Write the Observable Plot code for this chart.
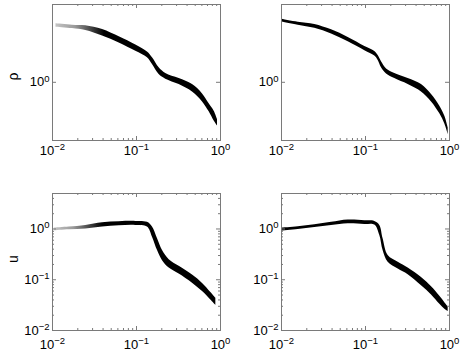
<!DOCTYPE html>
<html><head><meta charset="utf-8">
<script src="https://cdn.jsdelivr.net/npm/d3@7"></script>
<script src="https://cdn.jsdelivr.net/npm/@observablehq/plot@0.6"></script>
<style>
body{margin:0;background:#fff;}
#wrap{position:relative;width:463px;height:354px;overflow:hidden;font-family:"Liberation Sans",Arial,sans-serif;}
.p{position:absolute;}
</style></head><body><div id="wrap"></div>
<script>
// ---- data ----
const rhoLeftX  = [0.011, 0.0173, 0.0249, 0.0394, 0.0622, 0.0982, 0.135, 0.155, 0.186, 0.223, 0.322, 0.464, 0.611, 0.733, 0.841, 0.921];
const rhoLeftHi = [3.35, 3.26, 3.22, 2.98, 2.56, 2.16, 1.87, 1.66, 1.35, 1.20, 1.08, 0.955, 0.787, 0.64, 0.55, 0.463];
const rhoLeftLo = [3.13, 3.04, 2.92, 2.60, 2.26, 1.90, 1.66, 1.445, 1.175, 1.067, 0.955, 0.82, 0.667, 0.543, 0.448, 0.404];

const rhoRightX  = [0.01, 0.0158, 0.0249, 0.0394, 0.0622, 0.0982, 0.129, 0.1416, 0.155, 0.178, 0.223, 0.322, 0.464, 0.611, 0.767, 0.880, 0.964];
const rhoRightHi = [3.69, 3.47, 3.31, 2.96, 2.53, 2.10, 1.89, 1.74, 1.53, 1.32, 1.20, 1.08, 0.955, 0.777, 0.61, 0.496, 0.39];
const rhoRightLo = [3.49, 3.26, 3.06, 2.72, 2.31, 1.92, 1.72, 1.57, 1.35, 1.19, 1.08, 0.955, 0.82, 0.667, 0.521, 0.423, 0.34];

const uLeftX  = [0.0105, 0.0158, 0.0249, 0.0394, 0.0622, 0.0982, 0.135, 0.155, 0.178, 0.204, 0.245, 0.322, 0.464, 0.611, 0.767, 0.880];
const uLeftHi = [1.042, 1.09, 1.177, 1.33, 1.39, 1.41, 1.35, 1.09, 0.64, 0.376, 0.249, 0.1836, 0.1235, 0.0844, 0.056, 0.0432];
const uLeftLo = [0.922, 0.965, 0.995, 1.09, 1.16, 1.177, 1.09, 0.69, 0.376, 0.238, 0.170, 0.1293, 0.0857, 0.0586, 0.040, 0.0314];

const uRightX  = [0.01, 0.0158, 0.0249, 0.0394, 0.0622, 0.0982, 0.129, 0.148, 0.162, 0.186, 0.245, 0.322, 0.464, 0.611, 0.767, 0.880, 0.964];
const uRightHi = [1.042, 1.107, 1.213, 1.35, 1.50, 1.457, 1.41, 1.177, 0.64, 0.299, 0.220, 0.170, 0.111, 0.0725, 0.0473, 0.0354, 0.0291];
const uRightLo = [0.908, 0.98, 1.074, 1.177, 1.27, 1.23, 1.195, 0.745, 0.376, 0.220, 0.1625, 0.1255, 0.0759, 0.0503, 0.0328, 0.0261, 0.0235];

const xDomain = [0.01, 1];
const rhoDomain = [0.3, 5];
const uDomain = [0.01, 5];
const xTicks = [0.01, 0.1, 1];
const xTickLabels = ["10^-2", "10^-1", "10^0"];
const xMinor = [0.02,0.03,0.04,0.05,0.06,0.07,0.08,0.09,0.2,0.3,0.4,0.5,0.6,0.7,0.8,0.9];
const rhoTicks = [1];
const rhoTickLabels = ["10^0"];
const uTicks = [0.01, 0.1, 1];
const uTickLabels = ["10^-2", "10^-1", "10^0"];
const uMinor = [0.02,0.03,0.04,0.05,0.06,0.07,0.08,0.09,0.2,0.3,0.4,0.5,0.6,0.7,0.8,0.9,2,3,4];

// ---- drawing ----
const GRAY = "#7a7a7a";
const wrap = document.getElementById("wrap");

function panel(cfg) {
  const {left, top, width, height, m, xs, hi, lo, yDomain, yTicks, yLabels, yMinor, ylabel, labelDy, gradId, xPad} = cfg;
  const innerW = width - m.l - m.r, innerH = height - m.t - m.b;
  const data = xs.map((x, i) => ({x, hi: hi[i], lo: lo[i]}));
  const marks = [
    Plot.areaY(data, {x: "x", y1: "lo", y2: "hi", fill: gradId ? `url(#${gradId})` : "#000", curve: "catmull-rom"}),
    Plot.frame({stroke: GRAY}),
    Plot.tickX(xTicks, {x: d => d, insetBottom: innerH - 4, stroke: GRAY}),
    Plot.tickX(xTicks, {x: d => d, insetTop: innerH - 4, stroke: GRAY}),
    Plot.tickX(xMinor, {x: d => d, insetBottom: innerH - 2, stroke: GRAY}),
    Plot.tickX(xMinor, {x: d => d, insetTop: innerH - 2, stroke: GRAY}),
    Plot.tickY(yTicks, {y: d => d, insetRight: innerW - 4, stroke: GRAY}),
    Plot.tickY(yTicks, {y: d => d, insetLeft: innerW - 4, stroke: GRAY}),
    Plot.axisX({ticks: xTicks, tickFormat: d => xTickLabels[xTicks.indexOf(d)], tickSize: 0, tickPadding: xPad, fontSize: 13, label: null}),
    Plot.axisY({ticks: yTicks, tickFormat: d => yLabels[yTicks.indexOf(d)], tickSize: 0, tickPadding: 3, fontSize: 13, label: null})
  ];
  if (yMinor) {
    marks.push(Plot.tickY(yMinor, {y: d => d, insetRight: innerW - 2, stroke: GRAY}));
    marks.push(Plot.tickY(yMinor, {y: d => d, insetLeft: innerW - 2, stroke: GRAY}));
  }
  if (ylabel) {
    marks.push(Plot.text([ylabel], {text: d => d, frameAnchor: "left", rotate: -90, dx: -39, dy: labelDy, fontSize: 14}));
  }
  const svg = Plot.plot({
    width, height,
    marginTop: m.t, marginRight: m.r, marginBottom: m.b, marginLeft: m.l,
    style: {fontFamily: "'Liberation Sans', Arial, sans-serif", fontSize: "13px", background: "transparent", color: "#000", overflow: "visible"},
    x: {type: "log", domain: xDomain, axis: null, label: null},
    y: {type: "log", domain: yDomain, axis: null, label: null},
    marks
  });
  // superscript exponents in tick labels
  d3.select(svg).selectAll("text").each(function () {
    const t = this.textContent;
    if (t.includes("^")) {
      const [b, e] = t.split("^");
      this.textContent = b;
      d3.select(this).append("tspan").attr("dy", "-0.5em").attr("font-size", "9.5px").text(e.replace("-", "\u2212"));
    }
  });
  if (gradId) {
    const g = d3.select(svg).insert("defs", ":first-child").append("linearGradient")
      .attr("id", gradId).attr("x1", "0").attr("x2", "1").attr("y1", "0").attr("y2", "0");
    [[0, "#c4c4c4"], [0.12, "#9a9a9a"], [0.22, "#444"], [0.3, "#000"], [1, "#000"]].forEach(([o, c]) =>
      g.append("stop").attr("offset", o).attr("stop-color", c));
  }
  const div = document.createElement("div");
  div.className = "p";
  div.style.left = left + "px";
  div.style.top = top + "px";
  div.appendChild(svg);
  wrap.appendChild(div);
}

panel({left: 0, top: 0, width: 231, height: 175, m: {t: 4, r: 11, b: 35, l: 52},
  xs: rhoLeftX, hi: rhoLeftHi, lo: rhoLeftLo, yDomain: rhoDomain, yTicks: rhoTicks, yLabels: rhoTickLabels,
  ylabel: "\u03c1", labelDy: 8, gradId: "gradA", xPad: 5});
panel({left: 231, top: 0, width: 232, height: 175, m: {t: 4, r: 14, b: 35, l: 50},
  xs: rhoRightX, hi: rhoRightHi, lo: rhoRightLo, yDomain: rhoDomain, yTicks: rhoTicks, yLabels: rhoTickLabels,
  xPad: 5});
panel({left: 0, top: 175, width: 231, height: 179, m: {t: 18, r: 11, b: 24, l: 52},
  xs: uLeftX, hi: uLeftHi, lo: uLeftLo, yDomain: uDomain, yTicks: uTicks, yLabels: uTickLabels, yMinor: uMinor,
  ylabel: "u", labelDy: 1, gradId: "gradB", xPad: 9});
panel({left: 231, top: 175, width: 232, height: 179, m: {t: 18, r: 14, b: 24, l: 50},
  xs: uRightX, hi: uRightHi, lo: uRightLo, yDomain: uDomain, yTicks: uTicks, yLabels: uTickLabels, yMinor: uMinor,
  xPad: 9});
</script>
</body></html>
